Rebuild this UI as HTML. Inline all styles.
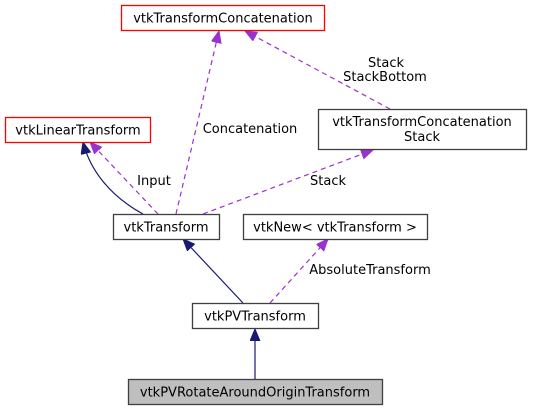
<!DOCTYPE html>
<html><head><meta charset="utf-8"><style>
html,body{margin:0;padding:0;background:#fff;}
svg{display:block;}
text{font-family:"DejaVu Sans","Liberation Sans",sans-serif;font-size:13px;fill:#000;}
</style></head><body>
<svg width="533" height="411" viewBox="0 0 533 411" xmlns="http://www.w3.org/2000/svg">
<defs>
<marker id="n" markerUnits="userSpaceOnUse" markerWidth="14" markerHeight="12" refX="12" refY="5" orient="auto">
<path d="M0,0 L12,5 L0,10 Z" fill="#191970" stroke="#191970"/></marker>
<marker id="p" markerUnits="userSpaceOnUse" markerWidth="14" markerHeight="12" refX="12" refY="5" orient="auto">
<path d="M0,0 L12,5 L0,10 Z" fill="#9a32cd" stroke="#9a32cd"/></marker>
</defs>
<g fill="none" stroke-width="1.2">
<path d="M255,379 L255,329" stroke="#191970" marker-end="url(#n)"/>
<path d="M243,303 L183,239" stroke="#191970" marker-end="url(#n)"/>
<path d="M270,303 L328,239" stroke="#9a32cd" stroke-dasharray="5,4" marker-end="url(#p)"/>
<path d="M143,214 C110,196 90,170 83,142" stroke="#191970" marker-end="url(#n)"/>
<path d="M158,214 L90,142" stroke="#9a32cd" stroke-dasharray="5,4" marker-end="url(#p)"/>
<path d="M176,214 L219,31" stroke="#9a32cd" stroke-dasharray="5,4" marker-end="url(#p)"/>
<path d="M203,214 L373,150" stroke="#9a32cd" stroke-dasharray="5,4" marker-end="url(#p)"/>
<path d="M390,109 L245,31" stroke="#9a32cd" stroke-dasharray="5,4" marker-end="url(#p)"/>
</g>
<g stroke-width="1.3">
<rect x="121.5" y="5.5" width="203" height="25" fill="#fff" stroke="#ff0000"/>
<rect x="5.5" y="117.5" width="145" height="25" fill="#fff" stroke="#ff0000"/>
<rect x="318.5" y="109.5" width="208" height="40" fill="#fff" stroke="#404040"/>
<rect x="113.5" y="214.5" width="106" height="25" fill="#fff" stroke="#404040"/>
<rect x="243.5" y="214.5" width="184" height="25" fill="#fff" stroke="#404040"/>
<rect x="192.5" y="303.5" width="126" height="25" fill="#fff" stroke="#404040"/>
<rect x="128.5" y="379.5" width="254" height="25" fill="#bfbfbf" stroke="#404040"/>
</g>
<g text-anchor="middle">
<text x="223" y="22.5">vtkTransformConcatenation</text>
<text x="78" y="134.5">vtkLinearTransform</text>
<text x="422" y="126">vtkTransformConcatenation</text>
<text x="422" y="141">Stack</text>
<text x="166" y="231.5">vtkTransform</text>
<text x="335" y="231.5">vtkNew&lt; vtkTransform &gt;</text>
<text x="255" y="320.5">vtkPVTransform</text>
<text x="255" y="396.5">vtkPVRotateAroundOriginTransform</text>
<text x="386" y="67">Stack</text>
<text x="385" y="81">StackBottom</text>
<text x="250" y="133">Concatenation</text>
<text x="154" y="185">Input</text>
<text x="328" y="185">Stack</text>
<text x="370" y="274">AbsoluteTransform</text>
</g>
</svg>
</body></html>
